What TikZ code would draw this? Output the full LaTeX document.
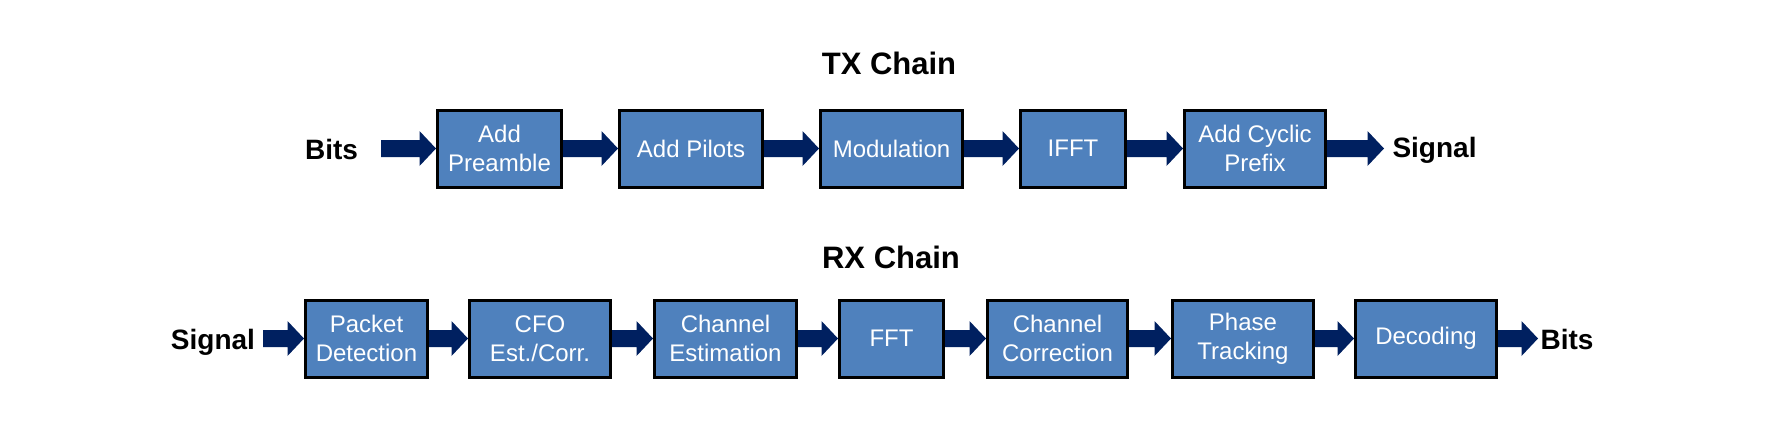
\documentclass[tikz,border=0pt]{standalone}
\usepackage{fontspec}
\setmainfont{Liberation Sans}
\usepackage{xcolor}

\definecolor{boxblue}{RGB}{79,129,189}
\definecolor{arrownavy}{RGB}{0,32,96}

% block arrow from one anchor to another (same row)
\newcommand{\blockarrow}[2]{%
  \fill [arrownavy] ([yshift=6.375pt]#1) -- ([xshift=-12.375pt,yshift=6.375pt]#2)
    -- ([xshift=-12.375pt,yshift=13.125pt]#2) -- (#2)
    -- ([xshift=-12.375pt,yshift=-13.125pt]#2) -- ([xshift=-12.375pt,yshift=-6.375pt]#2)
    -- ([yshift=-6.375pt]#1) -- cycle;}

\begin{document}
\begin{tikzpicture}[x=0.75pt,y=0.75pt,yscale=-1,xscale=1,
  blockbox/.style={draw=black,line width=2.25pt,fill=boxblue,text=white,align=center,
    font=\fontsize{18}{21.75}\selectfont,minimum height=57.75pt,inner sep=0pt},
  sidelabel/.style={font=\fontsize{21}{25}\selectfont\bfseries,inner sep=0pt,anchor=base},
  chaintitle/.style={font=\fontsize{23.25}{28}\selectfont\bfseries,inner sep=0pt,anchor=base}]
\useasboundingbox (0,0) rectangle (1784,430);

% TX chain
\node [chaintitle] (txtitle) at (889,74) {TX Chain};
\node [sidelabel] (txbits) at (331.5,159.5) {Bits};
\coordinate (txin) at (381,148.5);
%Shape: Rectangle
\node [blockbox,minimum width=93pt] (pre) at (499.5,148.5) {Add\\Preamble};
%Shape: Rectangle
\node [blockbox,minimum width=107.25pt] (pil) at (691,148.5) {Add Pilots};
%Shape: Rectangle
\node [blockbox,minimum width=106.5pt] (mod) at (891.5,148.5) {Modulation};
%Shape: Rectangle
\node [blockbox,minimum width=78.75pt] (ifft) at (1073,148.5) {IFFT};
%Shape: Rectangle
\node [blockbox,minimum width=105.75pt] (cp) at (1255,148.5) {Add Cyclic\\Prefix};
\coordinate (txout) at (1384,148.5);
\node [sidelabel] (txsig) at (1434.5,157) {Signal};

%Block Arrows
\blockarrow{txin}{pre.west}
\blockarrow{pre.east}{pil.west}
\blockarrow{pil.east}{mod.west}
\blockarrow{mod.east}{ifft.west}
\blockarrow{ifft.east}{cp.west}
\blockarrow{cp.east}{txout}

% RX chain
\node [chaintitle] (rxtitle) at (891,268) {RX Chain};
\node [sidelabel] (rxsig) at (213,349) {Signal};
\coordinate (rxin) at (263,338.5);
%Shape: Rectangle
\node [blockbox,minimum width=91.5pt] (pkt) at (366.5,338.5) {Packet\\Detection};
%Shape: Rectangle
\node [blockbox,minimum width=105.75pt] (cfo) at (540,338.5) {CFO\\Est./Corr.};
%Shape: Rectangle
\node [blockbox,minimum width=106.5pt] (chest) at (725.5,338.5) {Channel\\Estimation};
%Shape: Rectangle
\node [blockbox,minimum width=78pt] (fft) at (891.5,338.5) {FFT};
%Shape: Rectangle
\node [blockbox,minimum width=105pt] (chcor) at (1057.5,338.5) {Channel\\Correction};
%Shape: Rectangle
\node [blockbox,minimum width=105.75pt] (phase) at (1243,338.5) {Phase\\Tracking};
%Shape: Rectangle
\node [blockbox,minimum width=105.75pt] (dec) at (1426,338.5) {Decoding};
\coordinate (rxout) at (1538,338.5);
\node [sidelabel] (rxbits) at (1567,349) {Bits};

%Block Arrows
\blockarrow{rxin}{pkt.west}
\blockarrow{pkt.east}{cfo.west}
\blockarrow{cfo.east}{chest.west}
\blockarrow{chest.east}{fft.west}
\blockarrow{fft.east}{chcor.west}
\blockarrow{chcor.east}{phase.west}
\blockarrow{phase.east}{dec.west}
\blockarrow{dec.east}{rxout}

\end{tikzpicture}
\end{document}
